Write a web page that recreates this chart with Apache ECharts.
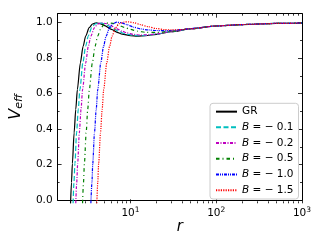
<!DOCTYPE html>
<html><head><meta charset="utf-8">
<script src="https://cdn.jsdelivr.net/npm/echarts@6/dist/echarts.min.js"></script>
<style>html,body{margin:0;padding:0;background:#fff}#c{width:320px;height:240px}</style>
</head><body><div id="c"></div>
<script>
// ---- data ----
const rGR  = [2.0,2.05,2.1,2.2,2.3,2.4,2.6,2.8,3.0,3.3,3.6,4.0,4.5,5,6,7,8,10,12,15,20,30,50,100,200,500,1000];
const vGR  = [0,0.115,0.22,0.39,0.52,0.63,0.777,0.869,0.926,0.973,0.993,1.0,0.994,0.984,0.963,0.947,0.937,0.928,0.926,0.928,0.936,0.950,0.966,0.982,0.990,0.996,0.998];
const rB01 = [2.14,2.19,2.25,2.35,2.46,2.57,2.78,3.0,3.21,3.53,3.85,4.3,4.8,5.4,6.4,7.5,8.5,10.5,12.5,15,20,30,50,100,200,500,1000];
const vB01 = [0,0.115,0.22,0.39,0.52,0.63,0.777,0.869,0.926,0.973,0.993,1.0,0.995,0.985,0.965,0.95,0.94,0.931,0.928,0.93,0.937,0.951,0.966,0.982,0.990,0.996,0.998];
const rB02 = [2.3,2.36,2.42,2.53,2.65,2.76,3.0,3.22,3.45,3.8,4.15,4.6,5.2,5.8,6.8,8,9,11,13,16,20,30,50,100,200,500,1000];
const vB02 = [0,0.115,0.22,0.39,0.52,0.63,0.777,0.869,0.926,0.973,0.993,1.0,0.995,0.986,0.968,0.953,0.944,0.935,0.932,0.933,0.938,0.951,0.966,0.982,0.990,0.996,0.998];
const rB05 = [2.76,2.83,2.9,3.04,3.17,3.31,3.59,3.86,4.14,4.55,4.97,5.6,6.3,7.2,8.5,10,12,15,20,30,50,100,200,500,1000];
const vB05 = [0,0.115,0.22,0.39,0.52,0.63,0.777,0.869,0.926,0.973,0.993,1.0,0.996,0.987,0.974,0.963,0.953,0.947,0.946,0.953,0.966,0.982,0.990,0.996,0.998];
const rB10 = [3.45,3.55,3.63,3.8,3.98,4.15,4.5,4.85,5.2,5.7,6.2,6.9,7.8,9,11,13,16,20,25,30,40,50,100,200,500,1000];
const vB10 = [0,0.115,0.22,0.39,0.52,0.63,0.777,0.869,0.926,0.973,0.993,1.003,1.0,0.99,0.975,0.966,0.96,0.957,0.956,0.957,0.962,0.968,0.982,0.990,0.996,0.998];
const rB15 = [4.05,4.15,4.25,4.47,4.67,4.87,5.28,5.7,6.1,6.7,7.4,8.5,9.5,11,13,16,20,25,30,40,50,100,200,500,1000];
const vB15 = [0,0.115,0.22,0.39,0.52,0.63,0.777,0.869,0.926,0.973,0.995,1.004,1.005,1.0,0.99,0.978,0.968,0.962,0.96,0.962,0.967,0.982,0.990,0.996,0.998];

const seriesNames = ['GR','B = − 0.1','B = − 0.2','B = − 0.5','B = − 1.0','B = − 1.5'];
const xMajorTicks = [10,100,1000];
const xMinorTicks = [2,3,4,5,6,7,8,9,20,30,40,50,60,70,80,90,200,300,400,500,600,700,800,900];
const yMajorTicks = [0,0.2,0.4,0.6,0.8,1.0];
const yMinorTicks = [0.1,0.3,0.5,0.7,0.9];

// ---- styles ----
const FONT = 'DejaVu Sans';
const rs = [rGR,rB01,rB02,rB05,rB10,rB15];
const vs = [vGR,vB01,vB02,vB05,vB10,vB15];
const colors = ['#000000','#00bfbf','#bf00bf','#008000','#0000ff','#ff0000'];
const dashes = ['solid',[5,2.5],[3,1.5,1,1.5],[3.5,3,1,3],[3,1,1,1,1,1],[1.2,1.2]];

const chart = echarts.init(document.getElementById('c'), null, {renderer:'canvas'});
// grid 0: log data area (axis starts at 1 = 10^0); grid 1: visible frame starting at r≈1.2
const PLOT_LEFT = 51.7, RIGHT = 18, TOP = 13.7, BOTTOM = 36.7;
const grids = [
  {left:44.75, right:RIGHT, top:TOP, bottom:BOTTOM},
  {left:PLOT_LEFT, right:RIGHT, top:TOP, bottom:BOTTOM}
];
function xLogAxis(pos, ticks, len, showLabel){
  return {type:'log', min:1, max:1000, logBase:10, gridIndex:0, position:pos,
    splitLine:{show:false},
    axisLine:{show:false},
    axisTick:{show:true, inside:true, length:len, customValues:ticks, lineStyle:{color:'#000', width:0.8}},
    axisLabel:{show:showLabel, customValues:xMajorTicks, margin:3, color:'#000',
      formatter:v=>'{a|10}{b|'+Math.round(Math.log10(v))+'}',
      rich:{a:{fontFamily:FONT,fontSize:10.5,color:'#000',lineHeight:13},
            b:{fontFamily:FONT,fontSize:7.5,color:'#000',verticalAlign:'top',lineHeight:8}}}};
}
function frameX(pos){
  return {type:'value', min:0, max:1, gridIndex:1, position:pos,
    splitLine:{show:false}, axisTick:{show:false}, axisLabel:{show:false},
    axisLine:{show:true, onZero:false, lineStyle:{color:'#000', width:1}}};
}
function yAxisDef(grid, pos, ticks, len, showLine, showLabel){
  return {type:'value', min:0, max:1.05, position:pos, gridIndex:grid,
    splitLine:{show:false},
    axisLine:{show:showLine, onZero:false, lineStyle:{color:'#000', width:1}},
    axisTick:{show:ticks.length>0, inside:true, length:len, customValues:ticks, lineStyle:{color:'#000', width:0.8}},
    axisLabel:{show:showLabel, customValues:yMajorTicks, margin:5, color:'#000',
      fontFamily:FONT, fontSize:10.5, formatter:v=>v.toFixed(1)}};
}
const xAxes = [
  xLogAxis('bottom', xMajorTicks, 4, true),
  xLogAxis('bottom', xMinorTicks, 2, false),
  xLogAxis('top', xMajorTicks, 4, false),
  xLogAxis('top', xMinorTicks, 2, false),
  frameX('bottom'),
  frameX('top')
];
xAxes[4].name = 'r';
xAxes[4].nameLocation = 'middle';
xAxes[4].nameGap = 20;
xAxes[4].nameTextStyle = {fontFamily:FONT, fontSize:15, fontStyle:'italic', color:'#000'};
const yAxes = [
  yAxisDef(0, 'left', [], 0, false, false),          // data y axis (hidden)
  yAxisDef(1, 'left', yMajorTicks, 4, true, true),
  yAxisDef(1, 'left', yMinorTicks, 2, false, false),
  yAxisDef(1, 'right', yMajorTicks, 4, true, false),
  yAxisDef(1, 'right', yMinorTicks, 2, false, false)
];
yAxes[1].name = '{v|V}{s|eff}';
yAxes[1].nameLocation = 'middle';
yAxes[1].nameRotate = 90;
yAxes[1].nameGap = 16;
yAxes[1].nameTextStyle = {rich:{
  v:{fontFamily:FONT, fontSize:16, fontStyle:'italic', color:'#000', lineHeight:18},
  s:{fontFamily:FONT, fontSize:11, fontStyle:'italic', color:'#000', verticalAlign:'bottom', lineHeight:12}}};

const series = seriesNames.map((n,i)=>({
  name:n, type:'line', xAxisIndex:0, yAxisIndex:0,
  data: rs[i].map((r,j)=>[r, vs[i][j]]),
  showSymbol:false, symbol:'none', smooth:0.25, smoothMonotone:'x',
  clip:true, animation:false,
  lineStyle:{color:colors[i], width:1.2, type:dashes[i]},
  itemStyle:{color:colors[i]}
}));

chart.setOption({
  animation:false,
  backgroundColor:'#fff',
  grid:grids,
  xAxis:xAxes,
  yAxis:yAxes,
  legend:{
    data:seriesNames, orient:'vertical', left:210, top:103.3,
    width:87, padding:[2.5,5,3,5], itemGap:4, itemWidth:21, itemHeight:10,
    itemStyle:{opacity:0},
    backgroundColor:'rgba(255,255,255,0.85)', borderColor:'#cccccc', borderWidth:1, borderRadius:3,
    formatter:n=>n.replace(/^B/, '{i|B}'),
    textStyle:{fontFamily:FONT, fontSize:10.5, color:'#000', lineHeight:11.7,
      rich:{i:{fontFamily:FONT, fontSize:10.5, fontStyle:'italic', color:'#000', lineHeight:11.7}}},
    selectedMode:false
  },
  series:series
});
</script></body></html>
